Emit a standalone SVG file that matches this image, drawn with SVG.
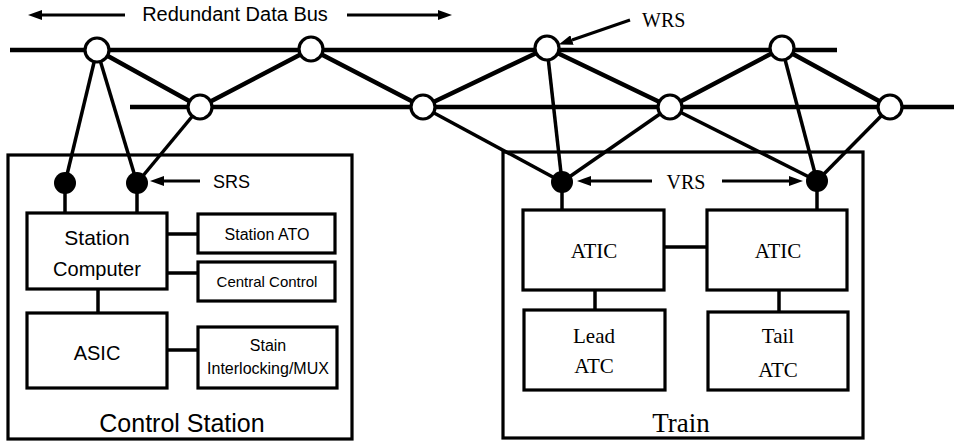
<svg xmlns="http://www.w3.org/2000/svg" width="954" height="442" viewBox="0 0 954 442">
<defs>
<marker id="ah" viewBox="0 0 14 10" refX="0" refY="5" markerWidth="14" markerHeight="10" markerUnits="userSpaceOnUse" orient="auto">
<path d="M0,0 L14,5 L0,10 z" fill="#000"/>
</marker>
</defs>
<style>
.bus{stroke:#000;stroke-width:4.5;fill:none}
.edge{stroke:#000;stroke-width:4.5;fill:none;stroke-linejoin:round}
.thin{stroke:#000;stroke-width:3.5;fill:none}
.box{fill:#fff;stroke:#000;stroke-width:3.2}
.frame{fill:none;stroke:#000;stroke-width:3.2}
.wrs{fill:#fff;stroke:#000;stroke-width:3.2}
.dot{fill:#000}
.arr{stroke:#000;stroke-width:3;fill:none;marker-end:url(#ah)}
.sans{font-family:"Liberation Sans",Arial,sans-serif;fill:#000}
.serif{font-family:"Liberation Serif","Times New Roman",serif;fill:#000}
</style>
<rect width="954" height="442" fill="#fff"/>

<g id="frames">
<rect class="frame" x="8" y="155" width="344" height="284"/>
<rect class="frame" x="503" y="152" width="360" height="286"/>
</g>

<g id="connectors">
<line class="bus" x1="10" y1="50" x2="837" y2="50"/>
<line class="bus" x1="130" y1="107" x2="954" y2="107"/>
<polyline class="edge" points="97,50 200,107 311,49 423,107 547,48 670,107 782,48 890,107"/>
<line class="thin" x1="97" y1="50" x2="65" y2="183"/>
<line class="thin" x1="97" y1="50" x2="137" y2="183"/>
<line class="thin" x1="200" y1="107" x2="137" y2="183"/>
<line class="thin" x1="423" y1="107" x2="562" y2="182"/>
<line class="thin" x1="547" y1="48" x2="562" y2="182"/>
<line class="thin" x1="670" y1="107" x2="562" y2="182"/>
<line class="thin" x1="670" y1="107" x2="817" y2="181"/>
<line class="thin" x1="782" y1="48" x2="817" y2="181"/>
<line class="thin" x1="890" y1="107" x2="817" y2="181"/>
<line class="thin" x1="65" y1="183" x2="65" y2="213"/>
<line class="thin" x1="137" y1="183" x2="137" y2="213"/>
<line class="thin" x1="562" y1="182" x2="562" y2="210"/>
<line class="thin" x1="817" y1="181" x2="817" y2="210"/>
<line class="thin" x1="167" y1="234" x2="198" y2="234"/>
<line class="thin" x1="167" y1="273" x2="198" y2="273"/>
<line class="thin" x1="98" y1="289" x2="98" y2="313"/>
<line class="thin" x1="167" y1="350" x2="198" y2="350"/>
<line class="thin" x1="664" y1="247" x2="707" y2="247"/>
<line class="thin" x1="595" y1="290" x2="595" y2="310"/>
<line class="thin" x1="779" y1="290" x2="779" y2="312"/>
<line class="arr" x1="125" y1="15" x2="42" y2="15"/>
<line class="arr" x1="347" y1="15" x2="438" y2="15"/>
<line class="arr" x1="200" y1="181" x2="164" y2="181"/>
<line class="arr" x1="630" y1="20" x2="572" y2="40"/>
<line class="arr" x1="652" y1="181" x2="591" y2="181"/>
<line class="arr" x1="722" y1="181" x2="789" y2="181"/>
</g>

<g id="wrs-nodes">
<circle class="wrs" cx="97" cy="50" r="12"/>
<circle class="wrs" cx="200" cy="107" r="12"/>
<circle class="wrs" cx="311" cy="49" r="12"/>
<circle class="wrs" cx="423" cy="107" r="12"/>
<circle class="wrs" cx="547" cy="48" r="12"/>
<circle class="wrs" cx="670" cy="107" r="12"/>
<circle class="wrs" cx="782" cy="48" r="12"/>
<circle class="wrs" cx="890" cy="107" r="12"/>
</g>

<g id="srs-nodes">
<circle class="dot" cx="65" cy="183" r="11"/>
<circle class="dot" cx="137" cy="183" r="11"/>
</g>
<g id="vrs-nodes">
<circle class="dot" cx="562" cy="182" r="11"/>
<circle class="dot" cx="817" cy="181" r="11"/>
</g>

<g id="labels">
<text class="sans" x="235" y="21" font-size="20" text-anchor="middle">Redundant Data Bus</text>
<text class="serif" x="642" y="27" font-size="20">WRS</text>
<text class="sans" x="213" y="188" font-size="18">SRS</text>
<text class="serif" x="686" y="189" font-size="20" text-anchor="middle">VRS</text>
<text class="sans" x="182" y="432" font-size="25" text-anchor="middle">Control Station</text>
<text class="serif" x="681" y="432" font-size="27" text-anchor="middle">Train</text>
</g>

<g id="station-computer">
<rect class="box" x="27" y="213" width="140" height="76"/>
<text class="sans" x="97" y="245" font-size="21" text-anchor="middle">Station</text>
<text class="sans" x="97" y="276" font-size="20" text-anchor="middle">Computer</text>
</g>
<g id="station-ato">
<rect class="box" x="198" y="214" width="137" height="39"/>
<text class="sans" x="267" y="240" font-size="16" text-anchor="middle">Station ATO</text>
</g>
<g id="central-control">
<rect class="box" x="198" y="262" width="137" height="39"/>
<text class="sans" x="267" y="287" font-size="15" text-anchor="middle">Central Control</text>
</g>
<g id="asic">
<rect class="box" x="27" y="313" width="140" height="75"/>
<text class="sans" x="97" y="360" font-size="20" text-anchor="middle">ASIC</text>
</g>
<g id="stain-interlocking">
<rect class="box" x="198" y="327" width="139" height="61"/>
<text class="sans" x="268" y="351" font-size="16" text-anchor="middle">Stain</text>
<text class="sans" x="268" y="374" font-size="16" text-anchor="middle">Interlocking/MUX</text>
</g>

<g id="atic-left">
<rect class="box" x="523" y="210" width="141" height="80"/>
<text class="serif" x="594" y="258" font-size="21" text-anchor="middle">ATIC</text>
</g>
<g id="atic-right">
<rect class="box" x="707" y="210" width="140" height="80"/>
<text class="serif" x="778" y="258" font-size="21" text-anchor="middle">ATIC</text>
</g>
<g id="lead-atc">
<rect class="box" x="524" y="310" width="141" height="80"/>
<text class="serif" x="594" y="343" font-size="21" text-anchor="middle">Lead</text>
<text class="serif" x="594" y="373" font-size="21" text-anchor="middle">ATC</text>
</g>
<g id="tail-atc">
<rect class="box" x="708" y="312" width="140" height="78"/>
<text class="serif" x="778" y="343" font-size="21" text-anchor="middle">Tail</text>
<text class="serif" x="778" y="377" font-size="21" text-anchor="middle">ATC</text>
</g>
</svg>
